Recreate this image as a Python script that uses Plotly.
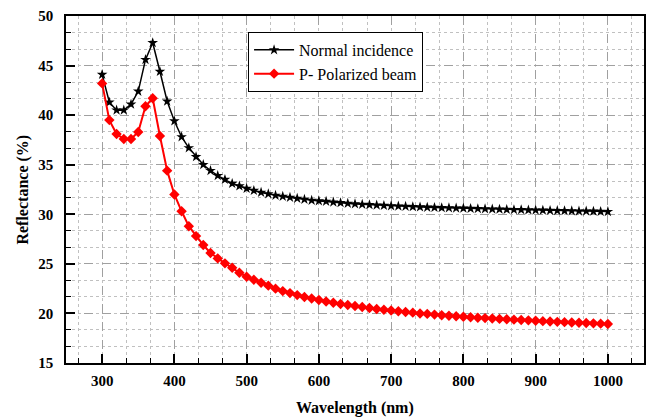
import plotly.graph_objects as go

wavelength = list(range(300, 1001, 10))

normal_incidence = [
    44.1, 41.3, 40.5, 40.5, 41.1, 42.4, 45.6, 47.3, 44.4, 41.4,
    39.4, 37.8, 36.7, 35.8, 35.0, 34.4, 33.9, 33.5, 33.1, 32.85,
    32.6, 32.4, 32.2, 32.05, 31.9, 31.8, 31.7, 31.6, 31.5, 31.4,
    31.35, 31.3, 31.22, 31.16, 31.1, 31.05, 31.0, 30.96, 30.92, 30.88,
    30.85, 30.82, 30.79, 30.76, 30.73, 30.7, 30.68, 30.66, 30.64, 30.62,
    30.6, 30.58, 30.56, 30.54, 30.52, 30.5, 30.48, 30.46, 30.45, 30.43,
    30.42, 30.4, 30.38, 30.37, 30.35, 30.34, 30.32, 30.31, 30.3, 30.28,
    30.27,
]

p_polarized = [
    43.2, 39.5, 38.1, 37.6, 37.6, 38.3, 40.9, 41.7, 37.9, 34.4,
    32.0, 30.3, 28.8, 27.8, 26.9, 26.1, 25.55, 25.05, 24.6, 24.1,
    23.7, 23.4, 23.1, 22.8, 22.5, 22.25, 22.05, 21.85, 21.65, 21.5,
    21.35, 21.2, 21.07, 20.95, 20.85, 20.75, 20.65, 20.55, 20.45, 20.37,
    20.3, 20.22, 20.15, 20.08, 20.0, 19.95, 19.88, 19.82, 19.77, 19.72,
    19.67, 19.62, 19.57, 19.53, 19.49, 19.45, 19.41, 19.37, 19.33, 19.3,
    19.26, 19.22, 19.19, 19.15, 19.12, 19.09, 19.06, 19.03, 19.0, 18.97,
    18.94,
]

x_ticks = [300, 400, 500, 600, 700, 800, 900, 1000]
y_ticks = [15, 20, 25, 30, 35, 40, 45, 50]

FONT = "'Liberation Serif', 'Times New Roman', Times, serif"

fig = go.Figure()
fig.add_trace(go.Scatter(
    x=wavelength, y=normal_incidence, mode="lines+markers",
    name="Normal incidence",
    line=dict(color="black", width=1.5),
    marker=dict(symbol="star", size=8, color="black"),
))
fig.add_trace(go.Scatter(
    x=wavelength, y=p_polarized, mode="lines+markers",
    name="P- Polarized beam",
    line=dict(color="#ff0000", width=2),
    marker=dict(symbol="diamond", size=8, color="#ff0000"),
))

axis_common = dict(
    showline=True, linecolor="black", linewidth=1.5, mirror=True,
    ticks="inside", ticklen=9, tickwidth=1.5, tickcolor="black",
    showgrid=True, gridcolor="#a0a0a0", gridwidth=1, griddash="dash",
    zeroline=False, automargin=False,
    tickfont=dict(family=FONT, size=15, color="black", weight="bold"),
)

fig.update_xaxes(
    range=[250, 1050], tickvals=x_ticks, ticklabelstandoff=3,
    minor=dict(dtick=100 / 3, tick0=300, ticks="inside", ticklen=5,
               tickcolor="black", tickwidth=1, showgrid=True,
               gridcolor="#c0c0c0", gridwidth=1, griddash="dot"),
    **axis_common,
)
fig.update_yaxes(
    range=[15, 50], tickvals=y_ticks, ticklabelstandoff=8,
    minor=dict(dtick=5 / 3, tick0=15, ticks="inside", ticklen=5,
               tickcolor="black", tickwidth=1, showgrid=True,
               gridcolor="#c0c0c0", gridwidth=1, griddash="dot"),
    **axis_common,
)

title_font = dict(family=FONT, size=16, color="black", weight="bold")
fig.add_annotation(
    text="Wavelength (nm)", xref="paper", yref="paper",
    x=0.5, y=-0.13, xanchor="center", yanchor="middle",
    showarrow=False, font=title_font,
)
fig.add_annotation(
    text="Reflectance (%)", xref="paper", yref="paper",
    x=-0.076, y=0.5, xanchor="center", yanchor="middle", textangle=-90,
    showarrow=False, font=title_font,
)

fig.update_layout(
    width=648, height=419,
    margin=dict(l=66, r=4, t=16, b=56),
    paper_bgcolor="white", plot_bgcolor="white",
    font=dict(family=FONT),
    showlegend=True,
    legend=dict(
        x=0.315, y=0.954, xanchor="left", yanchor="top",
        bgcolor="white", bordercolor="black", borderwidth=1,
        font=dict(family=FONT, size=16, color="black"),
        tracegroupgap=0, itemwidth=40,
    ),
)

fig.write_html(
    "out.html",
    config={"displayModeBar": False},
    post_script="document.body.style.margin='0';document.body.style.overflow='hidden';",
)
